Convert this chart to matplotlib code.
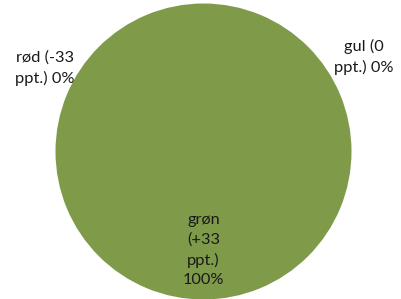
import matplotlib
matplotlib.use('Agg')
import matplotlib.pyplot as plt

# kategorier og værdier
categories = ['rød', 'gul', 'grøn']
changes = ['-33', '0', '+33']
shares = [0, 0, 100]
colors = ['#c0504d', '#f2c314', '#7f9a49']

plt.rcParams['font.family'] = ['Lato', 'DejaVu Sans']

fig = plt.figure(figsize=(4.02, 2.99), dpi=100)
ax = fig.add_axes([0, 0, 1, 1])

ax.pie(shares, colors=colors, center=(203.5, 151.5), radius=148,
       startangle=90, counterclock=False)
ax.set_xlim(0, 402)
ax.set_ylim(299, 0)
ax.set_aspect('auto')
ax.axis('off')

labels = ['{0} ({1}\nppt.) {2}%'.format(c, d, s) for c, d, s in zip(categories, changes, shares)]
labels[2] = '{0}\n({1}\nppt.)\n{2}%'.format(categories[2], changes[2], shares[2])
label_pos = [(45, 68), (364, 57), (203.5, 250)]

for lab, (x, y) in zip(labels, label_pos):
    ax.text(x, y, lab, ha='center', va='center', multialignment='center',
            fontsize=11.8, color='#1a1a1a', linespacing=1.5)

fig.savefig('out.png', dpi=100)
